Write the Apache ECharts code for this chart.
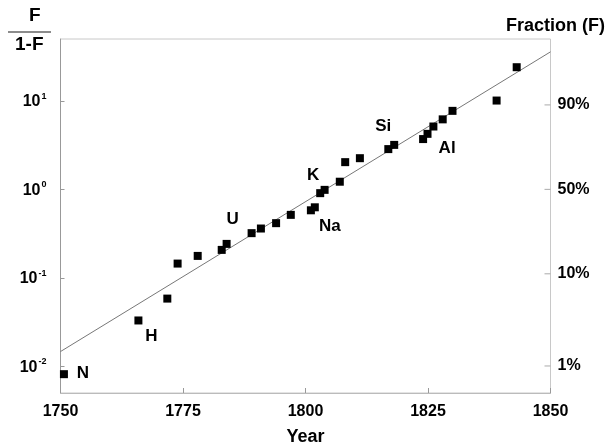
<!DOCTYPE html>
<html><head><meta charset="utf-8">
<script src="https://cdn.jsdelivr.net/npm/echarts@6/dist/echarts.min.js"></script>
<style>html,body{margin:0;background:#fff}#c{width:610px;height:447px}</style>
</head><body><div id="c"></div>
<script>
// Discovery year of each element and F/(1-F)
const years  = [1750.7, 1765.9, 1771.8, 1773.9, 1778.0, 1782.9, 1783.9, 1789.0, 1790.9, 1794.0,
                1797.0, 1801.1, 1801.9, 1803.0, 1803.9, 1807.0, 1808.1, 1811.1, 1816.9, 1818.1,
                1824.0, 1824.9, 1826.1, 1828.0, 1830.0, 1839.0, 1843.1];
const ratios = [0.00816, 0.0330, 0.0583, 0.145, 0.177, 0.207, 0.242, 0.320, 0.361, 0.415,
                0.515, 0.580, 0.627, 0.906, 0.987, 1.22, 2.03, 2.25, 2.85, 3.18,
                3.70, 4.24, 5.13, 6.18, 7.71, 10.08, 24.0];
const elementNames = ['N','H','','','','','U','','','',
                      '','','Na','K','','','','','Si','',
                      'Al','','','','','',''];
const fitYears  = [1750, 1850];
const fitRatios = [0.0147, 35.8];
const xTicks = [1750, 1775, 1800, 1825, 1850];
const fractionTicks  = [0.01, 0.10, 0.50, 0.90];
const fractionLabels = ['1%', '10%', '50%', '90%'];

const labelOffsets = { N:[19,-1], H:[13,16], U:[6,-25], Na:[15,19], K:[-7,-18], Si:[-5,-23], Al:[24,9] };
const FONT = 'Liberation Sans, Arial, sans-serif';
const TXT = '#000';

const chart = echarts.init(document.getElementById('c'));
const pts = years.map((y, i) => {
  const name = elementNames[i];
  const d = { value: [y, ratios[i]] };
  if (name) {
    d.label = { show: true, formatter: name, position: 'inside', offset: labelOffsets[name],
      fontFamily: FONT, fontWeight: 'bold', fontSize: 17, color: TXT, opacity: 1 };
  }
  return d;
});

chart.setOption({
  animation: false,
  grid: { left: 60.5, right: 59.5, top: 39, bottom: 54, show: true, borderColor: '#c8c8c8', borderWidth: 1,
          containLabel: false, outerBoundsMode: 'none' },
  xAxis: {
    type: 'value', min: 1750, max: 1850, interval: 25,
    name: 'Year', nameLocation: 'middle', nameGap: 35,
    nameTextStyle: { fontFamily: FONT, fontWeight: 'bold', fontSize: 18, color: TXT },
    axisLine: { show: true, lineStyle: { color: '#bbb' } },
    axisTick: { show: true, inside: true, length: 5, lineStyle: { color: '#999' } },
    splitLine: { show: false },
    axisLabel: { fontFamily: FONT, fontWeight: 'bold', fontSize: 16, color: TXT, margin: 11,
      formatter: v => xTicks.includes(v) ? String(v) : '' }
  },
  yAxis: [{
    type: 'log', logBase: 10, min: 0.005, max: 50,
    axisLine: { show: true, lineStyle: { color: '#999' } },
    axisTick: { show: true, inside: true, length: 4, lineStyle: { color: '#999' } },
    splitLine: { show: false },
    axisLabel: {
      showMinLabel: false, showMaxLabel: false, margin: 14,
      formatter: v => '{b|10}{s|' + Math.round(Math.log10(v)) + '}',
      rich: {
        b: { fontFamily: FONT, fontWeight: 'bold', fontSize: 16, color: TXT, lineHeight: 18, verticalAlign: 'bottom' },
        s: { fontFamily: FONT, fontWeight: 'bold', fontSize: 9, color: TXT, lineHeight: 18, verticalAlign: 'top', padding: [0,0,0,1] }
      }
    }
  }],
  graphic: [
    { type: 'text', left: 29, top: 6, style: { text: 'F', font: 'bold 19px ' + FONT, fill: TXT } },
    { type: 'line', shape: { x1: 8, y1: 32, x2: 51, y2: 32 }, style: { stroke: '#666', lineWidth: 1.5 } },
    { type: 'text', left: 15, top: 35, style: { text: '1-F', font: 'bold 19px ' + FONT, fill: TXT } },
    { type: 'text', right: 5, top: 17, style: { text: 'Fraction (F)', font: 'bold 18px ' + FONT, fill: TXT } }
  ],
  series: [
    { type: 'line', data: fitYears.map((y, i) => [y, fitRatios[i]]), symbol: 'none',
      lineStyle: { color: '#777', width: 1 }, z: 1 },
    { type: 'scatter', data: pts, symbol: 'rect', symbolSize: 8, itemStyle: { color: '#000', opacity: 1 }, z: 3 },
    { type: 'scatter', data: fractionTicks.map((f, i) => ({ value: [1850, f / (1 - f)],
        label: { show: true, formatter: fractionLabels[i] } })),
      symbol: 'rect', symbolSize: [6, 1], symbolOffset: [-3, 0], itemStyle: { color: '#aaa', opacity: 1 },
      label: { position: 'right', distance: 7, fontFamily: FONT, fontWeight: 'bold', fontSize: 16, color: TXT },
      clip: false, silent: true, z: 2 }
  ]
});
</script></body></html>
